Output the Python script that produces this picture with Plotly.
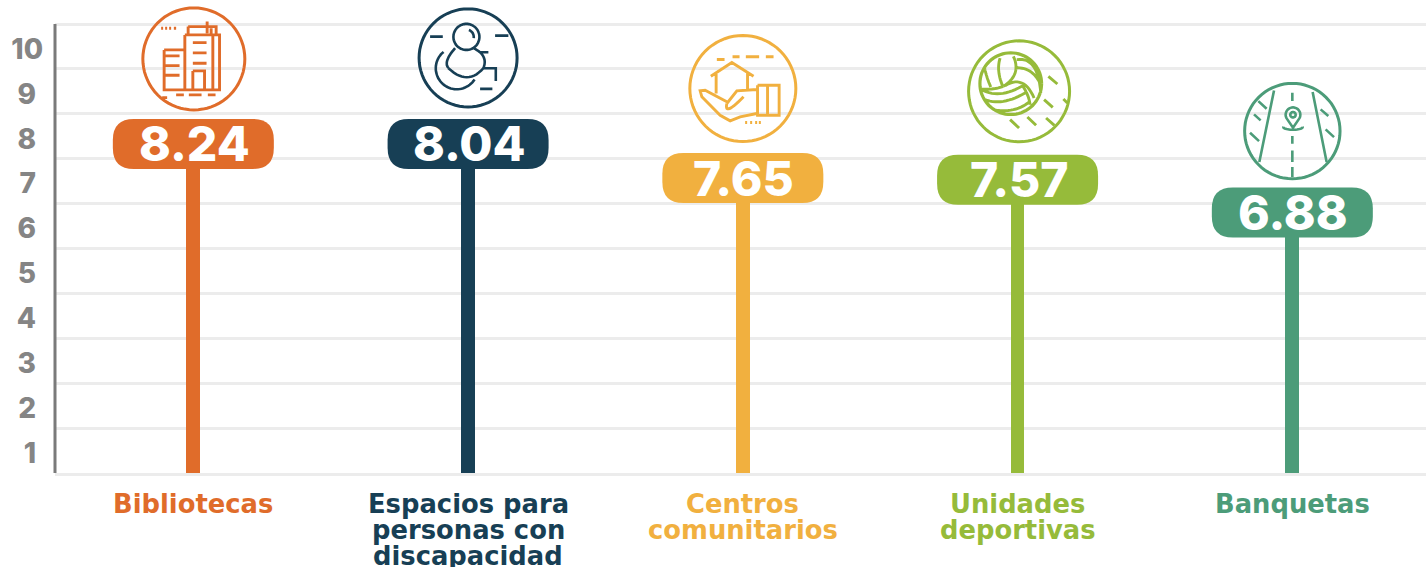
import math
import plotly.graph_objects as go

# ---- data ----
categories = ["Bibliotecas", "Espacios para<br>personas con<br>discapacidad",
              "Centros<br>comunitarios", "Unidades<br>deportivas", "Banquetas"]
value_labels = ["8.24", "8.04", "7.65", "7.57", "6.88"]
plotted_levels = [7.33, 7.33, 6.57, 6.53, 5.80]   # stem height as drawn against the axis
axis_labels = ["1", "2", "3", "4", "5", "6", "7", "8", "9", "10"]
colors = ["#E06C2A", "#173F55", "#F1B03F", "#96BB3A", "#4C9C79"]

FONT = "DejaVu Sans"
NUM_FONT = "Inter"
GRID = "#ECECEC"
AXIS = "#7A7A7A"
LABEL = "#858585"

x_index = list(range(len(categories)))

fig = go.Figure()
fig.add_bar(x=x_index, y=plotted_levels, width=0.05, marker=dict(color=colors, line_width=0),
            hoverinfo="skip", showlegend=False)


# ---- decorative helpers: pixel offsets from each pill centre ----
def arc(cx, cy, r, a0=0, a1=360, n=72, ry=None):
    ry = r if ry is None else ry
    return [(cx + r * math.cos(math.radians(a0 + (a1 - a0) * k / n)),
             cy + ry * math.sin(math.radians(a0 + (a1 - a0) * k / n))) for k in range(n + 1)]


def curve(p0, p1, p2, n=14):
    c = (2 * p1[0] - (p0[0] + p2[0]) / 2, 2 * p1[1] - (p0[1] + p2[1]) / 2)
    out = []
    for k in range(n + 1):
        t = k / n
        out.append(((1 - t) ** 2 * p0[0] + 2 * t * (1 - t) * c[0] + t ** 2 * p2[0],
                    (1 - t) ** 2 * p0[1] + 2 * t * (1 - t) * c[1] + t ** 2 * p2[1]))
    return out


def rect(x0, y0, x1, y1):
    return [(x0, y0), (x1, y0), (x1, y1), (x0, y1), (x0, y0)]


def seg(*pts):
    return list(pts)


def pixel_shape(i, path_str, **kw):
    fig.add_shape(type="path", path=path_str, xref="x", yref="y", xsizemode="pixel", ysizemode="pixel",
                  xanchor=i, yanchor=plotted_levels[i], **kw)


def pill(i, w=161, h=50, r=21):
    a, b = w / 2, h / 2
    p = (f"M {-a + r} {b} L {a - r} {b} Q {a} {b} {a} {b - r} L {a} {-b + r} Q {a} {-b} {a - r} {-b} "
         f"L {-a + r} {-b} Q {-a} {-b} {-a} {-b + r} L {-a} {b - r} Q {-a} {b} {-a + r} {b} Z")
    pixel_shape(i, p, fillcolor=colors[i], line_width=0, layer="between")


def icon(i, offset, radius, center, strokes, width=2.9):
    """strokes are given in 3x crop coordinates around `center`; offset places the circle above the pill."""
    ox, oy = offset
    pts = []
    for s in strokes:
        conv = [((x - center[0]) / 3 + ox, -((y - center[1]) / 3 + oy)) for x, y in s]
        pts.append("M " + " L ".join(f"{x:.1f} {y:.1f}" for x, y in conv))
    pixel_shape(i, " ".join(pts), line=dict(color=colors[i], width=width), layer="above")
    ring = arc(ox, oy, radius)
    pixel_shape(i, "M " + " L ".join(f"{x:.1f} {-y:.1f}" for x, y in ring) + " Z",
                line=dict(color=colors[i], width=3), layer="above")


for i in x_index:
    pill(i)

# Libraries
icon(0, (0.5, -85), 51, (580, 177), [
    rect(553, 105, 657, 270), seg((637, 105), (637, 270)), rect(563, 80, 647, 105),
    seg((620, 65), (620, 100)), seg((632, 85), (632, 105)), rect(491, 150, 553, 270),
    seg((491, 168), (537, 168)), seg((491, 197), (537, 197)), seg((491, 226), (537, 226)),
    seg((577, 128), (618, 128)), seg((577, 159), (618, 159)), seg((577, 190), (618, 190)),
    rect(577, 213, 612, 270), seg((485, 293), (500, 293)), seg((527, 285), (550, 285)),
    seg((565, 285), (603, 285)), seg((622, 285), (645, 285)),
    seg((482, 85), (488, 85)), seg((494, 85), (500, 85)), seg((506, 85), (512, 85)), seg((520, 85), (527, 85)),
])
# Accessibility
icon(1, (0, -86), 49, (234, 174), [
    arc(229, 111, 39), arc(229, 111, 22, -70, 10, 10),
    curve((195, 145), (172, 180), (175, 205)), curve((175, 205), (230, 232), (280, 205)),
    curve((280, 205), (280, 170), (250, 145)), seg((280, 205), (317, 205), (317, 243)),
    seg((270, 157), (295, 157)), seg((120, 110), (158, 110)), seg((315, 107), (355, 107)), seg((270, 267), (307, 267)),
    arc(200, 205, 63, 32, 231, 40),
], width=2.6)
# Community centres
icon(2, (0, -89.5), 53, (1058, 265), [
    seg((980, 178), (1003, 178)), seg((1027, 170), (1048, 170)), seg((1067, 170), (1107, 170)), seg((1127, 170), (1150, 170)),
    seg((962, 228), (1025, 187), (1090, 228)), seg((978, 218), (978, 280)), seg((1072, 220), (1072, 272)),
    seg((1100, 268), (1040, 272), (1010, 310)), curve((1010, 310), (1018, 325), (1060, 290)),
    seg((1100, 340), (1050, 350), (1020, 362), (990, 345), (935, 290), (930, 272), (945, 270), (1010, 305)),
    rect(1102, 255, 1167, 345), seg((1132, 255), (1132, 345)),
    seg((1065, 367), (1071, 367)), seg((1080, 367), (1086, 367)), seg((1095, 367), (1101, 367)), seg((1106, 367), (1112, 367)),
])
# Sports units
icon(3, (1.5, -88.5), 50.5, (207, 185), [
    arc(182, 162, 93), arc(182, 162, 92),
    curve((103, 112), (110, 140), (122, 172)), curve((150, 85), (146, 125), (158, 170)),
    curve((190, 80), (195, 130), (160, 170)), curve((160, 170), (125, 178), (90, 178)),
    curve((195, 115), (240, 125), (272, 165)), curve((200, 90), (250, 110), (272, 190)),
    curve((165, 168), (215, 160), (252, 205)), curve((95, 180), (150, 192), (215, 170)),
    curve((105, 210), (160, 215), (225, 190)), curve((130, 240), (190, 240), (240, 215)),
    curve((215, 165), (232, 195), (240, 225)),
    seg((295, 140), (322, 163)), seg((340, 208), (352, 220)), seg((282, 210), (308, 233)),
    seg((180, 270), (207, 295)), seg((232, 262), (258, 287)), seg((288, 265), (313, 287)),
])
# Sidewalks
icon(4, (0, -81.5), 47.7, (1027, 302), [
    seg((972, 180), (928, 395)), seg((1088, 185), (1130, 395)),
    seg((1027, 187), (1027, 212)), seg((1027, 317), (1027, 340)), seg((1027, 360), (1027, 395)), seg((1027, 410), (1027, 440)),
    arc(1029, 253, 22, 150, 390, 24) + [(1029, 292), (1010, 264)], arc(1029, 253, 8),
    arc(1029, 290, 29, -10, 190, 24, ry=8),
    seg((925, 212), (950, 235)), seg((912, 252), (932, 270)), seg((900, 307), (927, 332)),
    seg((1112, 237), (1135, 257)), seg((1127, 297), (1152, 320)),
], width=2.6)

# Left axis line, stopping at the top gridline
fig.add_shape(type="line", xref="paper", yref="y", x0=0, x1=0, y0=0, y1=10,
              line=dict(color=AXIS, width=3), layer="above")

# Value labels in the pills
for i in x_index:
    fig.add_annotation(x=i, y=plotted_levels[i], text=value_labels[i], showarrow=False,
                       xshift=1, font=dict(family=NUM_FONT, size=48, color="white", weight=800))

# Category labels, one annotation per line for the tight leading of the original
for i, (name, c) in enumerate(zip(categories, colors)):
    for k, part in enumerate(name.split("<br>")):
        fig.add_annotation(x=i, y=0, text=part, showarrow=False, yanchor="middle", yshift=-31 - 26 * k,
                           font=dict(family=FONT, size=25.8, color=c, weight="bold"))

# Single digits carry a quarter-em space so they centre on the "10" above, as in the original
tick_text = [t if len(t) > 1 else t + "\u2005" for t in axis_labels]

fig.update_layout(
    width=1426, height=567, margin=dict(l=55, r=0, t=0, b=94, pad=0, autoexpand=False),
    paper_bgcolor="white", plot_bgcolor="white", bargap=0, showlegend=False,
    xaxis=dict(range=[-0.5035, 4.4865], showticklabels=False, ticks="", showgrid=False, zeroline=False,
               showline=True, linecolor=GRID, linewidth=3, automargin=False),
    yaxis=dict(range=[0, 10.535], tickmode="array", tickvals=[k + 0.445 for k in range(10)], ticktext=tick_text,
               tickfont=dict(family=NUM_FONT, size=28, color=LABEL, weight=800), ticks="", showgrid=False,
               zeroline=False, showline=False, ticklabelstandoff=11, automargin=False,
               minor=dict(tick0=0, dtick=1, showgrid=True, gridcolor=GRID, gridwidth=3, ticks="")),
)

fig.write_html("out.html", post_script="document.body.style.margin='0';", config={"displayModeBar": False})
